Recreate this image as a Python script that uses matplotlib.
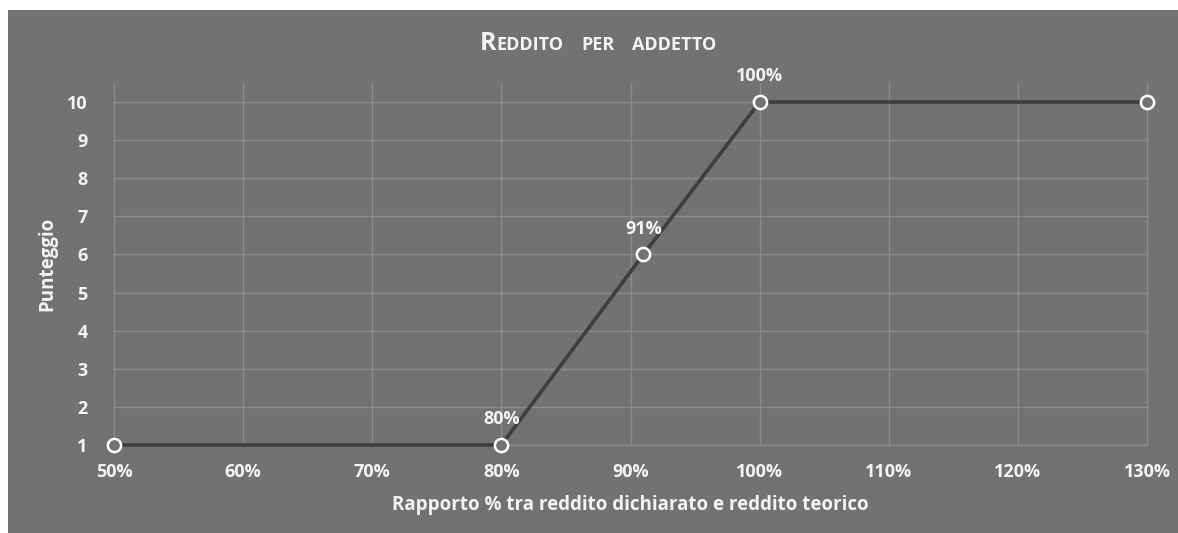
import matplotlib
matplotlib.use("Agg")
import matplotlib.pyplot as plt
from matplotlib.patches import Rectangle

plt.rcParams['font.family'] = ['Open Sans', 'DejaVu Sans']

# data
ratio = [50, 80, 91, 100, 130]
score = [1, 1, 6, 10, 10]
point_labels = ["", "80%", "91%", "100%", ""]
x_ticks = [50, 60, 70, 80, 90, 100, 110, 120, 130]
y_ticks = [1, 2, 3, 4, 5, 6, 7, 8, 9, 10]

title = "Reddito per addetto"
x_title = "Rapporto % tra reddito dichiarato e reddito teorico"
y_title = "Punteggio"

BG = "#727272"
GRID = "#8c8c8c"
LINE = "#3e3e3e"
TXT = "#f4f4f4"

W, H = 1178, 533
fig = plt.figure(figsize=(W / 100, H / 100), dpi=100)
fig.patch.set_facecolor("white")
fig.patches.append(Rectangle((8 / W, 0), 1 - 8 / W, (H - 10) / H,
                             transform=fig.transFigure, facecolor=BG,
                             edgecolor="none", zorder=-5))

ax = fig.add_axes([114 / W, 88 / H, (1147 - 114) / W, (450 - 88) / H])
ax.set_facecolor("none")
for s in ax.spines.values():
    s.set_visible(False)

ax.set_xlim(50, 130)
ax.set_ylim(1, 10.5)
ax.set_xticks(x_ticks)
ax.set_xticklabels([f"{v}%" for v in x_ticks])
ax.set_yticks(y_ticks)
ax.grid(True, color=GRID, lw=1.0)
ax.set_axisbelow(True)
for gl in ax.get_xgridlines() + ax.get_ygridlines():
    gl.set_clip_on(False)
ax.tick_params(length=0, colors=TXT, labelsize=13)
ax.tick_params(axis="y", pad=19)
ax.tick_params(axis="x", pad=13)
for lab in ax.get_xticklabels() + ax.get_yticklabels():
    lab.set_fontweight("bold")

ax.plot(ratio, score, color=LINE, lw=2.6, zorder=3,
        marker="o", ms=9.5, mfc=BG, mec="white", mew=1.8, clip_on=False)

for x, y, t in zip(ratio, score, point_labels):
    if t:
        ax.annotate(t, (x, y), xytext=(0, 15), textcoords="offset points",
                    ha="center", va="baseline", color=TXT,
                    fontsize=13, fontweight="bold")

ax.set_xlabel(x_title, color=TXT, fontsize=13.5, fontweight="bold", labelpad=10)
ax.set_ylabel(y_title, color=TXT, fontsize=13.5, fontweight="bold", labelpad=7)

# title in small caps, built piece by piece
renderer = fig.canvas.get_renderer()
pieces = []
for i, word in enumerate(title.split()):
    if i > 0:
        pieces.append((None, 0))
    if word[0].isupper():
        pieces.append((word[0], 18))
        pieces.append((word[1:].upper(), 13))
    else:
        pieces.append((word.upper(), 13))

gap = 18
texts = []
total = 0
for s, size in pieces:
    if s is None:
        texts.append(None)
        total += gap
        continue
    t = fig.text(0, 1 - 50 / H, s, fontsize=size, fontweight="bold",
                 color=TXT, va="baseline", ha="left")
    w = t.get_window_extent(renderer).width
    texts.append((t, w))
    total += w

x0 = 598 - total / 2
for item in texts:
    if item is None:
        x0 += gap
        continue
    t, w = item
    t.set_x(x0 / W)
    x0 += w

fig.savefig("out.png", dpi=100)
